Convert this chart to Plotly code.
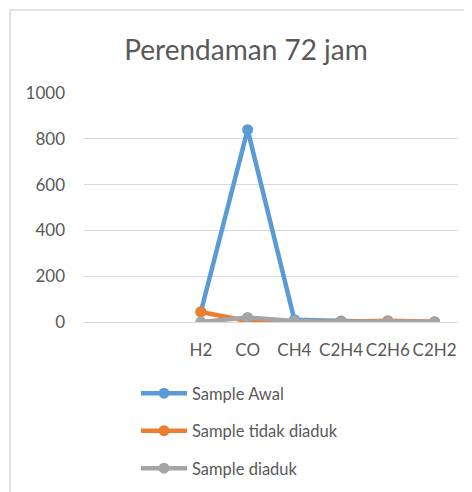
import plotly.graph_objects as go

categories = [" ", "  ", "H2", "CO", "CH4", "C2H4", "C2H6", "C2H2"]
gas = ["H2", "CO", "CH4", "C2H4", "C2H6", "C2H2"]
sample_awal = [45, 840, 10, 4, 0, 0]
sample_tidak_diaduk = [44, 4, 2, 1, 6, 1]
sample_diaduk = [0, 20, 4, 0, 2, 0]
series_names = ["Sample Awal", "Sample tidak diaduk", "Sample diaduk"]
colors = ["#5B9BD5", "#ED7D31", "#A5A5A5"]

fig = go.Figure()
for i, (name, vals, c) in enumerate(zip(series_names, [sample_awal, sample_tidak_diaduk, sample_diaduk], colors)):
    fig.add_trace(go.Scatter(
        x=gas, y=vals, name=name, mode="lines+markers",
        line=dict(color=c, width=4.5), marker=dict(color=c, size=11),
        legendgroup=f"g{i}",
    ))

# page body has an 8px margin: figure is placed at (8, 8)
OFF = 8
W, H = 472 - OFF, 492 - OFF
L, R, T, B = 84 - OFF, 14, 93 - OFF, H - (322 - OFF)
PW, PH = W - L - R, H - T - B

def px_x(px):
    return (px - 84) / PW

def px_y(py):
    return (322 - py) / PH

font_fam = "Lato, Open Sans, sans-serif"
fig.update_layout(
    width=W, height=H,
    margin=dict(l=L, r=R, t=T, b=B, autoexpand=False),
    paper_bgcolor="white", plot_bgcolor="white",
    title=dict(text="Perendaman 72 jam", x=(246 - OFF) / W, xref="container", xanchor="center",
               y=1 - (50 - OFF) / H, yref="container", yanchor="middle",
               font=dict(family=font_fam, size=28, color="#595959")),
    font=dict(family=font_fam, color="#595959", size=16),
    showlegend=True,
    legend=dict(orientation="v", x=px_x(136), xanchor="left",
                y=px_y(376), yanchor="top", tracegroupgap=13, itemwidth=46,
                font=dict(size=16.5, color="#595959"), bgcolor="rgba(0,0,0,0)"),
    xaxis=dict(type="category", categoryorder="array", categoryarray=categories,
               range=[-0.5, 7.5], showgrid=False, showline=False, zeroline=False,
               tickfont=dict(size=17, color="#595959"), ticklabelstandoff=16,
               fixedrange=True),
    yaxis=dict(range=[0, 1000], tickvals=[0, 200, 400, 600, 800, 1000],
               showgrid=True, gridcolor="#D9D9D9", gridwidth=1,
               zeroline=True, zerolinecolor="#D9D9D9", zerolinewidth=1,
               showline=False, tickfont=dict(size=17, color="#595959"),
               ticklabelstandoff=18, fixedrange=True),
)

# chart frame border
fig.add_shape(type="line", xref="paper", yref="paper",
              x0=px_x(10), x1=px_x(472), y0=px_y(10), y1=px_y(10),
              line=dict(color="#D9D9D9", width=1.5))
fig.add_shape(type="line", xref="paper", yref="paper",
              x0=px_x(10), x1=px_x(10), y0=px_y(10), y1=px_y(492),
              line=dict(color="#D9D9D9", width=1.5))

fig.write_html("out.html")
